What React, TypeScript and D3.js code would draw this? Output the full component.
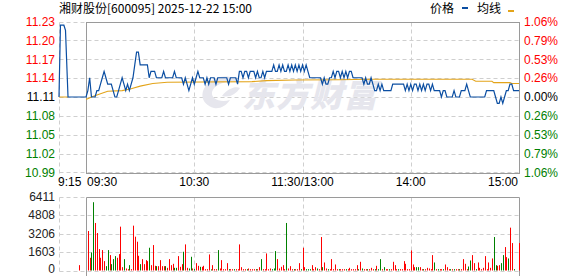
import React from 'react';
import * as d3 from 'd3';

const PREV_CLOSE = 11.11;
const HALF_RANGE = 0.1178;
const PRICE_TICKS = ['11.23', '11.20', '11.17', '11.14', '11.11', '11.08', '11.05', '11.02', '10.99'];
const PCT_TICKS = ['1.06%', '0.79%', '0.53%', '0.26%', '0.00%', '0.26%', '0.53%', '0.79%', '1.06%'];
const VOL_MAX = 6411;
const VOL_TICKS = ['6411', '4808', '3206', '1603', '0'];
const TIME_LABELS = ['9:15', '09:30', '10:30', '11:30/13:00', '14:00', '15:00'];
const TIME_MINUTES = [-15, 0, 60, 120, 180, 240];
const GRID_MINUTES = [-15, 60, 120, 180];

const PRE_MINUTES = [-15, -14.6, -14.2, -12.3, -11.4, -10];
const PRE_PRICES = [11.11, 11.165, 11.222, 11.222, 11.214, 11.11];
const PRE_AVG_MINUTES = [-15, -10];
const PRE_AVG = [11.11, 11.11];

// minute 0 = 9:30 ... minute 240 = 15:00
const PRICES = [
  11.11, 11.12, 11.14, 11.11, 11.11, 11.11, 11.12, 11.12, 11.13, 11.14,
  11.15, 11.14, 11.13, 11.13, 11.13, 11.12, 11.11, 11.11, 11.12, 11.13,
  11.14, 11.13, 11.12, 11.13, 11.12, 11.13, 11.14, 11.16, 11.18, 11.18,
  11.16, 11.16, 11.16, 11.16, 11.16, 11.14, 11.15, 11.15, 11.15, 11.14,
  11.14, 11.14, 11.14, 11.15, 11.14, 11.14, 11.14, 11.14, 11.14, 11.15,
  11.14, 11.14, 11.14, 11.14, 11.13, 11.14, 11.13, 11.12, 11.13, 11.14,
  11.13, 11.14, 11.15, 11.14, 11.14, 11.14, 11.13, 11.14, 11.13, 11.14,
  11.14, 11.14, 11.13, 11.14, 11.14, 11.14, 11.14, 11.14, 11.14, 11.13,
  11.14, 11.14, 11.14, 11.14, 11.13, 11.15, 11.15, 11.14, 11.15, 11.15,
  11.14, 11.15, 11.15, 11.15, 11.14, 11.15, 11.14, 11.14, 11.15, 11.14,
  11.15, 11.15, 11.15, 11.15, 11.16, 11.15, 11.15, 11.16, 11.15, 11.16,
  11.15, 11.15, 11.16, 11.15, 11.16, 11.15, 11.16, 11.15, 11.16, 11.15,
  11.16, 11.15, 11.16, 11.15, 11.14, 11.14, 11.14, 11.14, 11.14, 11.14,
  11.14, 11.13, 11.14, 11.13, 11.13, 11.14, 11.14, 11.15, 11.14, 11.15,
  11.15, 11.14, 11.15, 11.14, 11.15, 11.14, 11.15, 11.15, 11.14, 11.14,
  11.14, 11.14, 11.14, 11.14, 11.13, 11.14, 11.13, 11.13, 11.14, 11.13,
  11.12, 11.12, 11.13, 11.12, 11.13, 11.12, 11.12, 11.12, 11.12, 11.12,
  11.13, 11.13, 11.13, 11.13, 11.13, 11.13, 11.13, 11.12, 11.13, 11.12,
  11.13, 11.12, 11.13, 11.13, 11.12, 11.13, 11.12, 11.13, 11.12, 11.13,
  11.13, 11.12, 11.13, 11.12, 11.12, 11.12, 11.12, 11.11, 11.12, 11.12,
  11.11, 11.11, 11.11, 11.11, 11.12, 11.11, 11.11, 11.11, 11.12, 11.12,
  11.12, 11.13, 11.12, 11.11, 11.11, 11.11, 11.11, 11.11, 11.11, 11.11,
  11.11, 11.11, 11.12, 11.12, 11.12, 11.12, 11.12, 11.11, 11.10, 11.10,
  11.11, 11.10, 11.11, 11.12, 11.12, 11.13, 11.13, 11.12, 11.12, 11.12,
  11.12,
];

const AVG_MINUTES = [0, 3, 8, 12, 20, 25, 30, 37, 45, 92, 100, 116, 140, 158, 214, 216, 225, 226, 235, 236, 240];
const AVG_PRICES = [11.106, 11.11, 11.115, 11.119, 11.12, 11.123, 11.127, 11.131, 11.133, 11.134, 11.1355, 11.1365, 11.137, 11.1376, 11.1376, 11.1345, 11.1345, 11.1325, 11.1325, 11.131, 11.131];

// minutes 1..240
const VOLUMES = [
  3422, 1102, 1566, 5916, 4118, 3248, 1856, 1102, 1769, 812,
  377, 1769, 1334, 551, 986, 1247, 1102, 1421, 3799, 290,
  986, 174, 116, 464, 116, 3886, 2929, 2494, 1276, 551,
  986, 551, 899, 812, 1972, 464, 2204, 406, 377, 377,
  899, 377, 377, 377, 232, 986, 464, 580, 232, 232,
  1247, 319, 551, 1624, 2262, 232, 174, 1189, 174, 116,
  638, 406, 319, 319, 406, 116, 116, 1392, 100, 464,
  116, 116, 1769, 174, 899, 116, 116, 638, 116, 116,
  116, 116, 116, 116, 2262, 290, 116, 116, 116, 174,
  116, 116, 116, 116, 116, 290, 986, 116, 116, 1479,
  116, 174, 116, 174, 1682, 986, 174, 319, 464, 116,
  4118, 174, 377, 116, 116, 116, 116, 638, 116, 1972,
  290, 116, 116, 116, 464, 116, 290, 174, 116, 2900,
  290, 696, 174, 116, 116, 986, 116, 522, 116, 116,
  116, 116, 116, 116, 116, 232, 116, 116, 116, 464,
  116, 754, 174, 116, 116, 116, 116, 232, 116, 116,
  406, 116, 986, 116, 290, 116, 116, 116, 116, 754,
  464, 116, 116, 116, 116, 812, 580, 116, 116, 1740,
  522, 290, 290, 290, 290, 116, 116, 116, 232, 174,
  116, 1334, 696, 116, 116, 116, 116, 116, 522, 290,
  116, 116, 116, 116, 116, 116, 116, 116, 986, 580,
  116, 348, 870, 1334, 638, 116, 696, 232, 116, 232,
  1247, 116, 696, 232, 1044, 2900, 464, 406, 464, 638,
  1334, 2030, 1160, 1044, 3712, 2378, 116, 0, 0, 2378,
];
const VOL_UP = [
  1, 1, 0, 0, 1, 1, 1, 1, 1, 1,
  0, 0, 1, 0, 0, 0, 1, 1, 1, 1,
  0, 1, 1, 0, 1, 1, 1, 1, 1, 0,
  1, 1, 1, 1, 0, 1, 1, 1, 0, 1,
  1, 1, 1, 0, 1, 1, 1, 1, 0, 0,
  1, 1, 1, 0, 1, 1, 0, 0, 1, 0,
  1, 1, 0, 1, 1, 1, 1, 1, 0, 1,
  1, 1, 0, 1, 1, 1, 1, 1, 0, 1,
  1, 0, 1, 1, 1, 1, 1, 1, 0, 1,
  1, 1, 1, 0, 1, 1, 0, 1, 1, 1,
  1, 1, 0, 0, 0, 1, 1, 1, 1, 1,
  0, 1, 1, 1, 0, 1, 1, 1, 0, 1,
  1, 0, 0, 0, 1, 1, 1, 0, 1, 1,
  0, 1, 1, 0, 1, 1, 1, 1, 1, 0,
  1, 1, 1, 0, 1, 1, 1, 1, 1, 1,
  0, 1, 0, 1, 1, 0, 1, 1, 1, 0,
  1, 0, 0, 1, 0, 1, 1, 0, 1, 1,
  1, 1, 0, 1, 1, 1, 1, 1, 1, 1,
  1, 1, 0, 0, 1, 1, 0, 1, 1, 1,
  1, 1, 0, 1, 0, 1, 1, 0, 1, 1,
  1, 0, 1, 0, 1, 1, 0, 1, 1, 1,
  1, 0, 0, 1, 1, 0, 1, 1, 1, 1,
  1, 1, 1, 1, 1, 0, 0, 1, 1, 0,
  0, 1, 1, 0, 1, 1, 0, 1, 1, 1,
];
const PRE_VOL_MINUTE = -4;
const PRE_VOLUME = 464;

const RED = '#ff0000';
const GREEN = '#008000';
const BLUE = '#0b4ea2';
const ORANGE = '#e3a41a';
const GRID = '#cfcfcf';
const BORDER = '#9a9a9a';
const NUM_FONT = '"Liberation Sans", Arial, sans-serif';
const CJK_FONT = '"Noto Sans CJK SC", "Noto Sans", sans-serif';

const snap = (v: number) => Math.round(v) + 0.5;

export default function App() {
  const x = d3.scaleLinear().domain([-15, 240]).range([59, 519]);
  const yP = d3.scaleLinear().domain([PREV_CLOSE - HALF_RANGE, PREV_CLOSE + HALF_RANGE]).range([172.5, 21.5]);
  const yV = d3.scaleLinear().domain([0, VOL_MAX]).range([270.5, 196.5]);

  const left = snap(x(-15));
  const boxL = snap(x(0));
  const boxR = snap(x(240));
  const top = yP(PREV_CLOSE + HALF_RANGE);
  const bottom = yP(PREV_CLOSE - HALF_RANGE);

  const priceLevels = PRICE_TICKS.map((_, i) => PREV_CLOSE + HALF_RANGE - (i * HALF_RANGE) / 4);
  const volLevels = VOL_TICKS.map((_, i) => VOL_MAX - (i * VOL_MAX) / 4);

  const line = d3.line<[number, number]>().x((d) => x(d[0])).y((d) => yP(d[1]));
  const pricePts: [number, number][] = [
    ...PRE_MINUTES.map((m, i) => [m, PRE_PRICES[i]] as [number, number]),
    ...PRICES.map((p, i) => [i, p] as [number, number]),
  ];
  const avgPts: [number, number][] = AVG_MINUTES.map((m, i) => [m, AVG_PRICES[i]]);
  const preAvgPts: [number, number][] = PRE_AVG_MINUTES.map((m, i) => [m, PRE_AVG[i]]);

  const labelColor = (i: number) => (i < 4 ? RED : i === 4 ? '#000' : GREEN);

  const vTop = yV(VOL_MAX);
  const vBottom = yV(0);

  return (
    <svg width={578} height={276} style={{ position: 'absolute', left: 0, top: 0, background: '#fff' }}>
      {/* title */}
      <text x={59} y={13} fontFamily={CJK_FONT} fontSize={12} fill="#000">
        湘财股份[600095] 2025-12-22 15:00
      </text>
      {/* legend */}
      <text x={430} y={13} fontFamily={CJK_FONT} fontSize={12} fill="#000">价格</text>
      <rect x={462} y={7} width={6} height={2} fill={BLUE} />
      <text x={477} y={13} fontFamily={CJK_FONT} fontSize={12} fill="#000">均线</text>
      <rect x={508} y={10} width={6} height={2} fill={ORANGE} />

      {/* price grid */}
      {priceLevels.map((p, i) => (
        <line key={'hg' + i} x1={left} x2={boxR} y1={snap(yP(p))} y2={snap(yP(p))} stroke={GRID} strokeDasharray="4,3" />
      ))}
      {GRID_MINUTES.map((m) => (
        <line key={'vg' + m} x1={snap(x(m))} x2={snap(x(m))} y1={snap(top)} y2={snap(bottom)} stroke={GRID} strokeDasharray="4,3" />
      ))}

      {/* watermark */}
      <g fill="#e6e6ed">
        <path d="M214,108 C200,104 198,90 212,80 C222,74 236,76 238,82 C228,80 214,84 212,92 C211,99 220,103 230,100 C226,106 220,109 214,108 Z" />
        <path d="M222,96 C228,88 236,86 240,88 C236,94 230,98 222,96 Z" />
        <text x={242} y={107} fontFamily={CJK_FONT} fontSize={33} fontWeight={900} fontStyle="italic" letterSpacing={1}>
          东方财富
        </text>
      </g>

      {/* price box */}
      <rect x={boxL} y={snap(top)} width={boxR - boxL} height={snap(bottom) - snap(top)} fill="none" stroke={BORDER} />

      {/* avg and price lines */}
      <path d={line(preAvgPts) || ''} fill="none" stroke={ORANGE} strokeWidth={1} />
      <path d={line(avgPts) || ''} fill="none" stroke={ORANGE} strokeWidth={1.1} />
      <path d={line(pricePts) || ''} fill="none" stroke={BLUE} strokeWidth={1.2} />

      {/* price axis labels */}
      {priceLevels.map((p, i) => (
        <text key={'pl' + i} x={55} y={yP(p)} dy="0.36em" textAnchor="end" fontFamily={NUM_FONT} fontSize={12} fill={labelColor(i)}>
          {PRICE_TICKS[i]}
        </text>
      ))}
      {priceLevels.map((p, i) => (
        <text key={'pc' + i} x={524} y={yP(p)} dy="0.36em" textAnchor="start" fontFamily={NUM_FONT} fontSize={12} fill={labelColor(i)}>
          {PCT_TICKS[i]}
        </text>
      ))}

      {/* time labels */}
      {TIME_LABELS.map((t, i) => (
        <text
          key={'t' + i}
          x={i < 2 ? x(TIME_MINUTES[i]) + (i === 0 ? -1 : 1) : i === TIME_LABELS.length - 1 ? x(TIME_MINUTES[i]) - 1 : x(TIME_MINUTES[i])}
          y={186}
          textAnchor={i < 2 ? 'start' : i === TIME_LABELS.length - 1 ? 'end' : 'middle'}
          fontFamily={NUM_FONT}
          fontSize={12}
          fill="#000"
        >
          {t}
        </text>
      ))}

      {/* volume grid */}
      {volLevels.map((v, i) => (
        <line key={'vh' + i} x1={left} x2={boxR} y1={snap(yV(v))} y2={snap(yV(v))} stroke={GRID} strokeDasharray="4,3" />
      ))}
      {GRID_MINUTES.map((m) => (
        <line key={'vv' + m} x1={snap(x(m))} x2={snap(x(m))} y1={snap(vTop)} y2={snap(vBottom)} stroke={GRID} strokeDasharray="4,3" />
      ))}
      <line x1={boxL} x2={boxR} y1={snap(vTop)} y2={snap(vTop)} stroke={BORDER} />
      <line x1={boxL} x2={boxL} y1={snap(vTop)} y2={276} stroke={BORDER} />
      <line x1={boxR} x2={boxR} y1={snap(vTop)} y2={276} stroke={BORDER} />

      {/* volume bars */}
      <rect x={Math.round(x(PRE_VOL_MINUTE))} y={yV(PRE_VOLUME)} width={1} height={vBottom - yV(PRE_VOLUME)} fill={RED} />
      {VOLUMES.map((v, i) => (
        <rect
          key={'b' + i}
          x={Math.round(x(i + 1))}
          y={yV(v)}
          width={1}
          height={vBottom - yV(v)}
          fill={VOL_UP[i] ? RED : GREEN}
        />
      ))}

      {/* volume labels */}
      {volLevels.map((v, i) => (
        <text
          key={'vl' + i}
          x={55}
          y={i === VOL_TICKS.length - 1 ? yV(v) - 2 : yV(v)}
          dy="0.36em"
          textAnchor="end"
          fontFamily={NUM_FONT}
          fontSize={12}
          fill="#222"
        >
          {VOL_TICKS[i]}
        </text>
      ))}
    </svg>
  );
}
